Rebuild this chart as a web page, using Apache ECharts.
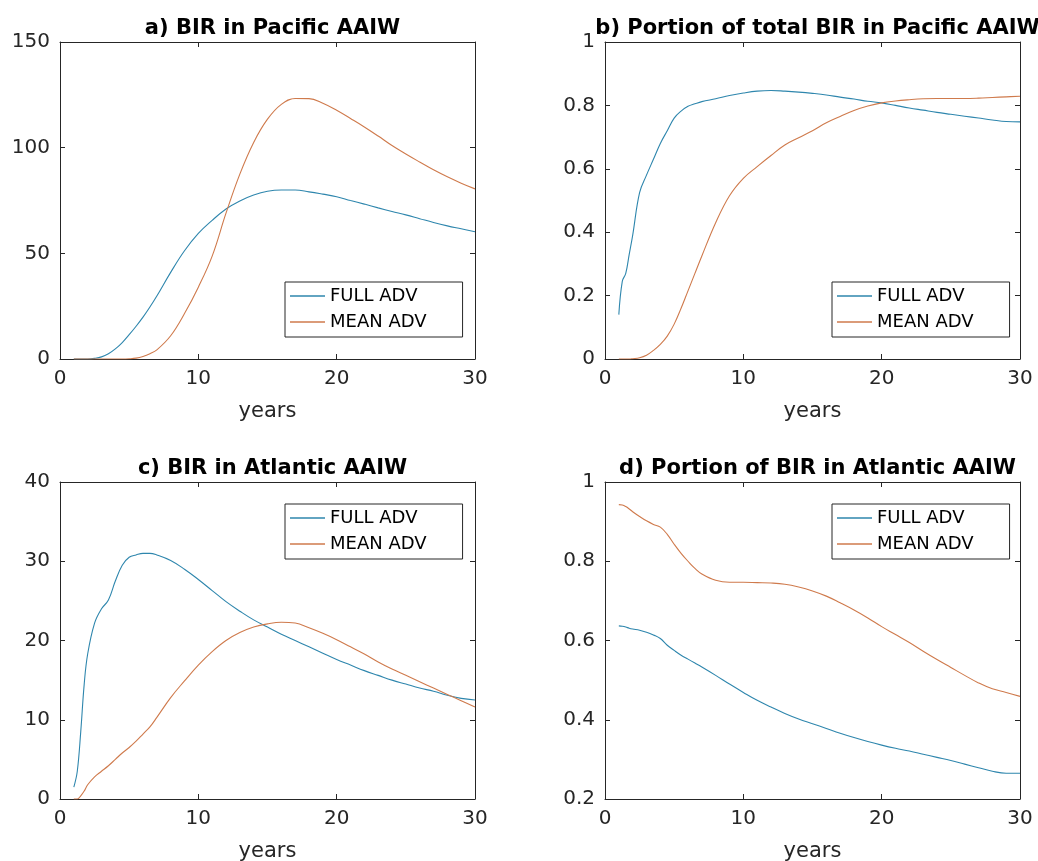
<!DOCTYPE html>
<html>
<head>
<meta charset="utf-8">
<script src="https://cdn.jsdelivr.net/npm/echarts@6/dist/echarts.min.js"></script>
<style>
html,body{margin:0;padding:0;background:#fff;}
#chart{width:1038px;height:861px;}
</style>
</head>
<body>
<div id="chart"></div>
<script>
// ---- data ----
const years = [1,1.25,1.5,1.75,2,2.5,3,3.5,4,4.5,5,5.5,6,6.5,7,8,9,10,11,12,13,14,15,16,17,18,19,20,21,22,23,24,25,26,27,28,29,30];
const xTicks = [0,10,20,30];
const seriesNames = ['FULL ADV','MEAN ADV'];
const titles = ['a) BIR in Pacific AAIW','b) Portion of total BIR in Pacific AAIW','c) BIR in Atlantic AAIW','d) Portion of BIR in Atlantic AAIW'];

const pacFull = [0,0,0,0,0,0.3,1,2.5,4.8,7.8,11.5,15.5,19.8,24.6,29.8,41,51.2,59.4,65.6,71,74.8,77.6,79.4,80,80,79.1,78,76.8,75,73.3,71.5,69.8,68.2,66.4,64.6,63,61.6,60.2];
const pacMean = [0,0,0,0,0,0,0,0,0,0,0.1,0.4,1.2,2.5,4.3,11,21.5,34,48.7,69,87.5,102.5,113.5,120.5,123.3,123.2,121,117.7,113.8,109.8,105.5,101,97,93.2,89.5,86.2,83.2,80.5];

const pacPortFull = [0.14,0.245,0.27,0.33,0.39,0.525,0.58,0.63,0.68,0.72,0.76,0.782,0.797,0.805,0.812,0.821,0.831,0.839,0.845,0.847,0.845,0.842,0.838,0.833,0.826,0.82,0.813,0.808,0.8,0.792,0.785,0.778,0.772,0.766,0.76,0.754,0.749,0.748];
const pacPortMean = [0,0,0,0,0.001,0.004,0.012,0.027,0.046,0.072,0.11,0.16,0.215,0.27,0.325,0.43,0.515,0.57,0.607,0.642,0.675,0.698,0.72,0.745,0.765,0.784,0.798,0.808,0.814,0.818,0.821,0.822,0.822,0.822,0.823,0.825,0.827,0.829];

const atlFull = [1.5,3.5,8.5,14.5,18.3,22.2,24,25.1,27.5,29.5,30.5,30.8,31,31,30.8,30.1,29,27.7,26.3,24.9,23.7,22.6,21.7,20.8,20,19.2,18.4,17.6,16.9,16.2,15.6,15,14.5,14,13.6,13.1,12.7,12.5];
const atlMean = [0,0,0.4,1,1.8,2.8,3.5,4.2,5,5.8,6.5,7.3,8.2,9.1,10.3,12.8,14.9,16.9,18.6,20,21,21.7,22.1,22.3,22.2,21.6,20.9,20.1,19.2,18.3,17.3,16.4,15.6,14.8,14,13.2,12.4,11.6];

const atlPortFull = [0.637,0.636,0.634,0.631,0.629,0.626,0.621,0.614,0.605,0.588,0.575,0.563,0.553,0.543,0.533,0.512,0.49,0.469,0.449,0.432,0.416,0.402,0.39,0.378,0.366,0.355,0.345,0.336,0.328,0.321,0.313,0.305,0.297,0.288,0.279,0.27,0.265,0.265];
const atlPortMean = [0.943,0.942,0.938,0.932,0.925,0.913,0.902,0.893,0.886,0.868,0.843,0.82,0.8,0.782,0.768,0.752,0.747,0.747,0.746,0.745,0.742,0.735,0.725,0.712,0.695,0.677,0.657,0.635,0.615,0.595,0.573,0.552,0.532,0.512,0.493,0.478,0.469,0.459];

const yRanges = [[0,150,50],[0,1,0.2],[0,40,10],[0.2,1,0.2]];
const panelData = [[pacFull,pacMean],[pacPortFull,pacPortMean],[atlFull,atlMean],[atlPortFull,atlPortMean]];

// ---- layout ----
const FONT = 'DejaVu Sans';
const AX = '#262626';
const colors = ['#2e86ad','#cf7a4c'];
const grids = [
  {left:60, top:42, width:415, height:317},
  {left:605, top:42, width:415, height:317},
  {left:60, top:482, width:415, height:317},
  {left:605, top:482, width:415, height:317}
];
const legendPos = [[285,282],[832,282],[285,504],[832,504]];

const xAxis = [], yAxis = [], series = [], title = [], legend = [];
grids.forEach((g, gi) => {
  g.outerBoundsMode = 'none';
  g.containLabel = false;
  const tick = {show:true, inside:true, length:5, lineStyle:{color:AX, width:1}};
  const line = {show:true, onZero:false, lineStyle:{color:AX, width:1}};
  xAxis.push({gridIndex:gi, type:'value', position:'bottom', min:xTicks[0], max:xTicks[xTicks.length-1], interval:10,
    axisLine:line, axisTick:tick, splitLine:{show:false},
    axisLabel:{fontFamily:FONT, fontSize:20, color:AX, margin:10},
    name:'years', nameLocation:'middle', nameGap:42,
    nameTextStyle:{fontFamily:FONT, fontSize:21, color:AX}});
  xAxis.push({gridIndex:gi, type:'value', position:'top', min:xTicks[0], max:xTicks[xTicks.length-1], interval:10,
    axisLine:line, axisTick:tick, splitLine:{show:false}, axisLabel:{show:false}});
  const r = yRanges[gi];
  yAxis.push({gridIndex:gi, type:'value', position:'left', min:r[0], max:r[1], interval:r[2],
    axisLine:line, axisTick:tick, splitLine:{show:false},
    axisLabel:{fontFamily:FONT, fontSize:20, color:AX, margin:10}});
  yAxis.push({gridIndex:gi, type:'value', position:'right', min:r[0], max:r[1], interval:r[2],
    axisLine:line, axisTick:tick, splitLine:{show:false}, axisLabel:{show:false}});
  panelData[gi].forEach((vals, si) => {
    series.push({type:'line', name:seriesNames[si], xAxisIndex:2*gi, yAxisIndex:2*gi,
      data: years.map((x,i)=>[x, vals[i]]), symbol:'none', showSymbol:false,
      smooth:0.4, color:colors[si],
      lineStyle:{width:1.1, color:colors[si]}, animation:false});
  });
  title.push({text:titles[gi], left:g.left + g.width/2, top: gi < 2 ? 13 : 453, textAlign:'center',
    textStyle:{fontFamily:FONT, fontSize:21, fontWeight:'bold', color:'#000'}});
  legend.push({data:seriesNames, orient:'vertical', left:legendPos[gi][0], top:legendPos[gi][1],
    icon:'rect', itemWidth:35, itemHeight:1.5, itemGap:8, padding:[5,36,6,5],
    borderColor:AX, borderWidth:1, backgroundColor:'#fff', selectedMode:false,
    textStyle:{fontFamily:FONT, fontSize:18, lineHeight:18, color:'#000'}});
});

const chart = echarts.init(document.getElementById('chart'), null, {renderer:'canvas'});
chart.setOption({animation:false, backgroundColor:'#fff', grid:grids, xAxis, yAxis, series, title, legend});
</script>
</body>
</html>
